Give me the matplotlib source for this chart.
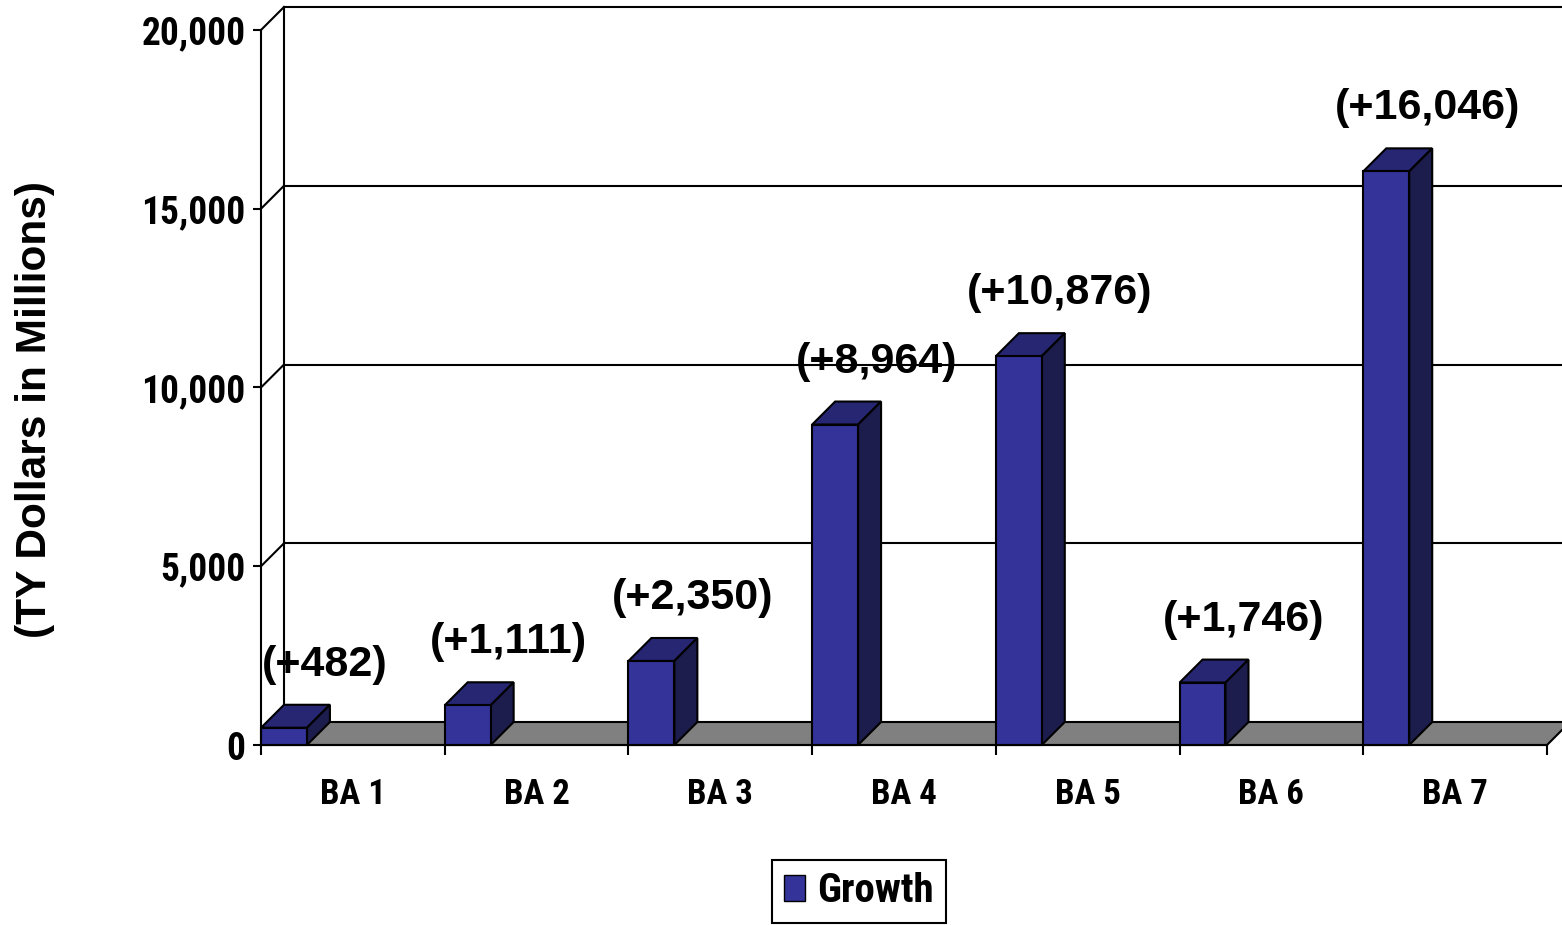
import matplotlib
matplotlib.use('Agg')
import matplotlib.pyplot as plt
from matplotlib.patches import Polygon, Patch
from matplotlib import font_manager

# Growth by budget activity (TY $M)
categories = ['BA 1', 'BA 2', 'BA 3', 'BA 4', 'BA 5', 'BA 6', 'BA 7']
growth = [482, 1111, 2350, 8964, 10876, 1746, 16046]
y_ticks = [0, 5000, 10000, 15000, 20000]
y_tick_labels = ['0', '5,000', '10,000', '15,000', '20,000']

FRONT = '#333399'
TOP = '#262673'
SIDE = '#1c1c4d'
FLOOR = '#808080'


def pick_narrow_bold():
    """First condensed family that ships a static bold face."""
    wanted = ['Liberation Sans Narrow', 'Roboto Condensed', 'IBM Plex Sans Condensed',
              'PT Sans Narrow', 'Fira Sans Condensed']
    for name in wanted:
        for f in font_manager.fontManager.ttflist:
            if f.name == name and f.weight == 700 and '[' not in f.fname \
                    and 'italic' not in f.fname.lower():
                return name
    return 'Liberation Sans'


narrow = pick_narrow_bold()
wide = 'Liberation Sans'

fig = plt.figure(figsize=(15.62, 9.25), dpi=100)
ax = fig.add_axes([261 / 1562, 180 / 925, 1286 / 1562, 715 / 925])
ax.set_xlim(0, len(categories))
ax.set_ylim(0, 20000)
ax.patch.set_visible(False)
for s in ['top', 'right']:
    ax.spines[s].set_visible(False)
for s in ['left', 'bottom']:
    ax.spines[s].set_linewidth(1.5)
    ax.spines[s].set_zorder(6)

# 3-D depth of 23 px, converted to data units
p0 = ax.transData.transform((0, 0))
p1 = ax.transData.transform((1, 1))
dx = 23 / (p1[0] - p0[0])
dy = 23 / (p1[1] - p0[1])
n = len(categories)
line_kw = dict(color='black', lw=1.5, clip_on=False)

# back wall edge, gridlines on back wall and side wall
ax.plot([dx, dx], [dy, y_ticks[-1] + dy], zorder=1, **line_kw)
for t in y_ticks[1:]:
    ax.plot([dx, n + dx], [t + dy, t + dy], zorder=1, **line_kw)
    ax.plot([0, dx], [t, t + dy], zorder=1, **line_kw)

# floor
ax.add_patch(Polygon([(0, 0), (n, 0), (n + dx, dy), (dx, dy)], closed=True,
                     facecolor=FLOOR, edgecolor='black', lw=1.5, clip_on=False, zorder=2))

# bars: front faces via bar(), then top and side faces
bw = 0.25
xs = list(range(n))
ax.bar(xs, growth, width=bw, align='edge', color=FRONT, edgecolor='black',
       linewidth=1.5, zorder=4, clip_on=False)
for i, v in zip(xs, growth):
    ax.add_patch(Polygon([(i, v), (i + bw, v), (i + bw + dx, v + dy), (i + dx, v + dy)],
                         closed=True, facecolor=TOP, edgecolor='black', lw=1.5,
                         zorder=3, clip_on=False))
    ax.add_patch(Polygon([(i + bw, 0), (i + bw + dx, dy), (i + bw + dx, v + dy), (i + bw, v)],
                         closed=True, facecolor=SIDE, edgecolor='black', lw=1.5,
                         zorder=3, clip_on=False))
    ax.annotate(f'(+{v:,})', xy=(i, v), textcoords='offset pixels', xytext=(64, 63),
                ha='center', va='center', fontsize=31, fontweight='bold',
                family=wide, annotation_clip=False)

# axes ticks
ax.set_yticks(y_ticks)
ax.set_yticklabels(y_tick_labels, fontsize=27, fontweight='bold', family=narrow)
ax.tick_params(axis='y', length=6, width=1.5, pad=5)
ax.set_xticks(range(n + 1))
ax.set_xticklabels([])
ax.tick_params(axis='x', which='major', length=7.5, width=1.5, direction='out')
ax.set_xticks([i + 0.5 for i in xs], minor=True)
ax.set_xticklabels(categories, minor=True, fontsize=25, fontweight='bold', family=narrow)
ax.tick_params(axis='x', which='minor', length=0, pad=24)

fig.text(35 / 1562, 1 - 410 / 925, '(TY Dollars in Millions)', rotation=90,
         ha='center', va='center', fontsize=30.5, fontweight='bold', family=wide)

leg = fig.legend(handles=[Patch(facecolor=FRONT, edgecolor='black', label='Growth')],
                 loc='upper left', bbox_to_anchor=(772 / 1562, 1 - 860 / 925),
                 frameon=True, fancybox=False, edgecolor='black', framealpha=1,
                 handlelength=0.5, handleheight=0.6, handletextpad=0.3,
                 borderpad=0.3, borderaxespad=0,
                 prop=dict(family=narrow, weight='bold', size=29.5))
leg.get_frame().set_linewidth(1.5)

fig.savefig('out.png', dpi=100)
